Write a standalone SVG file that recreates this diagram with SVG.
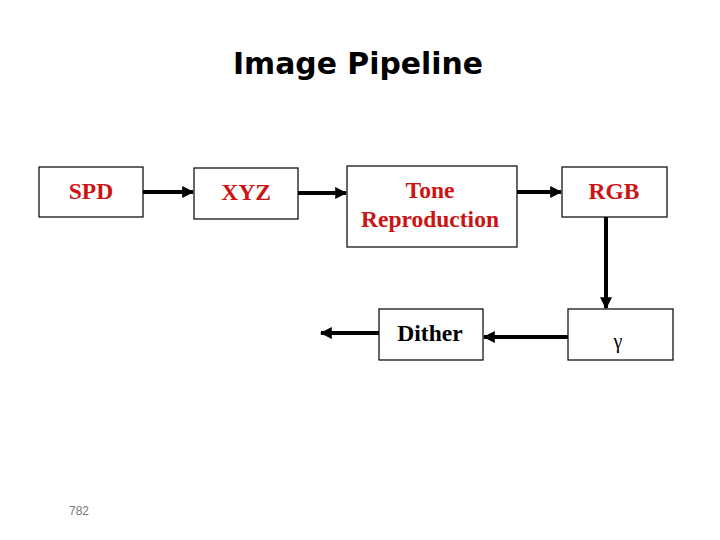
<svg xmlns="http://www.w3.org/2000/svg" width="720" height="540" viewBox="0 0 720 540">
<style>
.box{fill:#fff;stroke:#000;stroke-width:1.2}
.lbl{font-family:"Liberation Serif",serif;font-weight:bold;font-size:23.5px;text-anchor:middle}
.red{fill:#cc1414}
.blk{fill:#000}
.con{stroke:#000;stroke-width:4;fill:none}
</style>
<defs>
<marker id="ah" viewBox="0 0 10 10" refX="9" refY="5" markerWidth="3" markerHeight="3" orient="auto" markerUnits="strokeWidth">
<path d="M0,0 L10,5 L0,10 z" fill="#000"/>
</marker>
</defs>
<rect width="720" height="540" fill="#fff"/>
<text x="358" y="74" font-family="'Comic Sans MS','DejaVu Sans',sans-serif" font-weight="bold" font-size="31" text-anchor="middle" textLength="250" lengthAdjust="spacingAndGlyphs" fill="#000">Image Pipeline</text>
<g id="connectors">
<line class="con" x1="143" y1="192" x2="193" y2="192" marker-end="url(#ah)"/>
<line class="con" x1="298" y1="193" x2="346" y2="193" marker-end="url(#ah)"/>
<line class="con" x1="517" y1="192" x2="561" y2="192" marker-end="url(#ah)"/>
<line class="con" x1="606" y1="217" x2="606" y2="308" marker-end="url(#ah)"/>
<line class="con" x1="568" y1="337" x2="484" y2="337" marker-end="url(#ah)"/>
<line class="con" x1="379" y1="333" x2="321" y2="333" marker-end="url(#ah)"/>
</g>
<g id="spd">
<rect class="box" x="39" y="167" width="104" height="50"/>
<text class="lbl red" x="91" y="199">SPD</text>
</g>
<g id="xyz">
<rect class="box" x="194" y="168" width="104" height="51"/>
<text class="lbl red" x="246" y="200">XYZ</text>
</g>
<g id="tone">
<rect class="box" x="347" y="166" width="170" height="81"/>
<text class="lbl red" x="430" y="198">Tone</text>
<text class="lbl red" x="430" y="227">Reproduction</text>
</g>
<g id="rgb">
<rect class="box" x="562" y="167" width="105" height="50"/>
<text class="lbl red" x="614" y="199">RGB</text>
</g>
<g id="gamma">
<rect class="box" x="568" y="309" width="105" height="51"/>
<text x="618" y="348" font-family="'Liberation Serif',serif" font-size="20" text-anchor="middle" fill="#000">γ</text>
</g>
<g id="dither">
<rect class="box" x="379" y="309" width="104" height="51"/>
<text class="lbl blk" x="430" y="341">Dither</text>
</g>
<text x="79" y="515" font-family="'Liberation Sans',sans-serif" font-size="12" text-anchor="middle" fill="#777">782</text>
</svg>
